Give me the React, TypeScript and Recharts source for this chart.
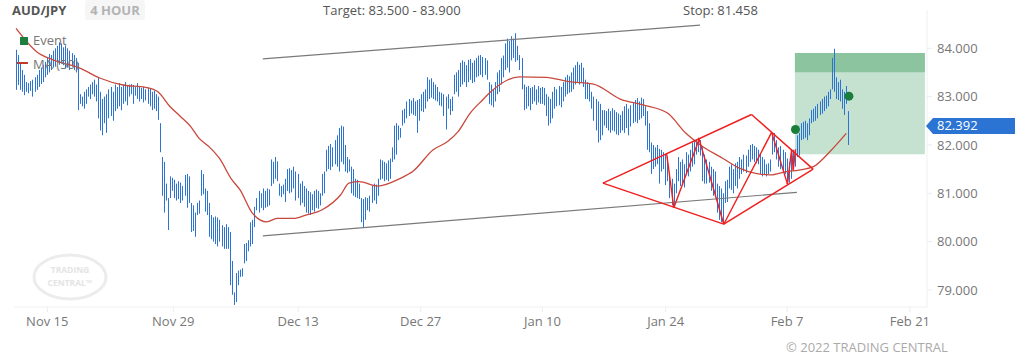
import React from 'react';
import { ComposedChart, Bar, Line, XAxis, YAxis, ReferenceLine, ReferenceArea, ReferenceDot } from 'recharts';

// 4-hour bars as [high, low], bar index starts at 1
const barsNov11 = [
  [83.97,83.14],[83.86,83.24],[83.70,83.14],[83.55,83.10],[83.45,83.03],[83.30,83.10],[83.28,83.07],[83.32,83.12],[83.35,83.00],[83.40,83.10],
  [83.45,83.14],[83.55,83.20],[83.60,83.26],[83.66,83.30],[83.72,83.40],[83.80,83.45],[83.88,83.50],[83.86,83.55],[83.95,83.60],[84.00,83.62],
  [84.05,83.70],[84.12,83.66],[84.10,83.72],[84.02,83.65],[84.06,83.58],[84.00,83.60],[83.95,83.55],[83.90,83.62],[83.86,83.55],[83.80,83.50],
  [83.70,82.72],[83.05,82.85],[83.00,82.80],[83.10,82.75],[83.15,82.85],[83.20,83.00],[83.25,82.95],[83.30,83.05],[83.35,83.00],[83.25,82.90],
  [83.40,82.55],[83.10,82.30],[82.95,82.20],[83.00,82.45],[83.05,82.25],[83.15,82.55],[83.20,82.60],[83.10,82.50],[83.25,82.70],[83.20,82.75],
  [83.28,82.80],[83.20,82.72],[83.25,82.85],[83.30,82.90],[83.22,82.82],[83.25,83.00],[83.26,83.05],[83.24,82.85],[83.20,83.02],[83.28,82.95],
];
const barsNov25 = [
  [83.22,82.90],[83.18,82.95],[83.20,82.88],[83.15,82.92],[83.18,82.85],[83.16,82.80],[83.10,82.72],[83.12,82.75],[83.05,82.70],[83.00,82.52],
  [82.45,81.85],[81.75,80.95],[81.65,80.60],[81.20,80.85],[80.90,80.24],[81.35,80.90],[81.32,81.05],[81.28,80.90],[81.20,80.85],[81.25,80.88],
  [81.22,80.80],[81.15,80.85],[81.38,80.95],[81.40,80.70],[81.35,80.80],[80.80,80.20],[80.75,80.22],[80.60,80.10],[80.80,80.55],[80.85,80.58],
  [81.48,80.95],[81.40,80.98],[81.10,80.62],[81.05,80.55],[80.80,80.10],[80.55,80.05],[80.50,80.00],[80.52,79.95],[80.50,79.90],[80.45,80.00],
  [80.34,79.90],[80.30,79.85],[80.36,79.85],[80.30,79.85],[80.20,79.10],[79.60,78.90],[78.95,78.69],[79.35,78.75],[79.40,79.10],[79.42,79.27],
  [79.45,79.28],[79.95,79.55],[79.97,79.60],[80.03,79.80],[80.40,79.90],[80.45,79.95],[80.72,80.30],[80.90,80.65],[81.05,80.60],[81.00,80.70],
];
const barsDec09 = [
  [81.10,80.65],[81.05,80.70],[81.10,80.72],[81.08,80.75],[81.70,81.15],[81.65,81.20],[81.75,81.30],[81.66,81.25],[81.20,80.95],[81.15,80.92],
  [81.18,80.98],[81.30,80.82],[81.50,81.05],[81.52,81.00],[81.48,81.02],[81.55,81.10],[81.45,80.85],[81.40,80.90],[81.20,80.75],[81.25,80.80],
  [81.15,80.72],[81.10,80.60],[81.05,80.58],[81.02,80.55],[80.98,80.65],[81.05,80.62],[81.08,80.70],[81.05,80.68],[81.00,80.75],[81.40,80.95],
  [81.45,81.00],[81.90,81.45],[81.98,81.50],[82.02,81.48],[81.95,81.55],[82.10,81.60],[82.20,81.55],[82.35,81.45],[82.40,81.65],[82.38,81.60],
  [82.00,81.45],[81.75,81.42],[81.70,81.45],[81.55,81.00],[81.50,80.95],[81.30,80.92],[81.28,80.90],[81.20,80.88],[80.90,80.40],[80.88,80.28],
  [80.92,80.45],[80.90,80.65],[80.95,80.62],[81.15,80.80],[81.20,80.85],[81.18,80.78],[81.30,80.95],[81.70,81.28],[81.68,81.30],[81.65,81.25],
];
const barsDec23 = [
  [81.62,81.28],[81.68,81.25],[81.72,81.30],[81.95,81.65],[82.40,81.70],[82.45,81.80],[82.40,82.10],[82.35,82.15],[82.72,82.40],[82.75,82.45],
  [82.90,82.55],[82.95,82.60],[82.92,82.65],[82.97,82.62],[82.90,82.60],[82.93,82.25],[82.95,82.50],[83.05,82.70],[83.10,82.68],[83.15,82.75],
  [83.40,82.90],[83.35,82.95],[83.38,82.98],[83.30,82.95],[83.25,82.92],[83.20,82.90],[83.10,82.82],[83.08,82.80],[83.05,82.60],[83.00,82.32],
  [83.05,82.75],[82.95,82.62],[83.00,82.70],[83.45,83.05],[83.50,83.10],[83.55,83.00],[83.70,83.20],[83.75,83.25],[83.72,83.30],[83.65,83.20],
  [83.76,83.30],[83.78,83.35],[83.70,83.28],[83.75,83.30],[83.80,83.40],[83.85,83.42],[83.86,83.45],[83.82,83.40],[83.80,83.45],[83.75,83.35],
  [83.30,82.85],[83.25,82.82],[83.15,82.78],[83.30,82.90],[83.50,83.05],[83.55,83.10],[83.80,83.25],[83.85,83.40],[84.10,83.55],[84.20,83.60],
];
const barsJan06 = [
  [84.15,83.50],[84.25,83.75],[84.20,83.80],[84.31,83.72],[84.05,83.75],[83.86,83.55],[83.80,83.15],[83.25,82.72],[83.20,82.75],[83.22,82.80],
  [83.18,82.72],[83.20,82.85],[83.24,82.90],[83.15,82.83],[83.22,82.88],[83.18,82.85],[83.20,82.85],[83.18,82.82],[83.05,82.60],[83.00,82.40],
  [82.95,82.45],[83.10,82.55],[83.20,82.75],[83.15,82.80],[83.22,82.82],[83.20,82.78],[83.30,82.90],[83.40,83.00],[83.45,83.05],[83.42,83.08],
  [83.50,83.10],[83.60,83.15],[83.65,83.25],[83.72,83.30],[83.66,83.25],[83.70,83.30],[83.60,83.20],[83.35,82.95],[83.30,82.95],[83.28,82.90],
  [83.10,82.75],[83.00,82.50],[82.95,82.30],[82.90,82.05],[82.85,82.10],[82.72,82.20],[82.72,82.40],[82.70,82.35],[82.75,82.30],[82.70,82.25],
  [82.76,82.30],[82.72,82.28],[82.68,82.22],[82.65,82.20],[82.62,82.25],[82.70,82.30],[82.80,82.25],[82.85,82.35],[82.75,82.20],[82.82,82.38],
];
const barsJan20 = [
  [82.88,82.45],[82.93,82.48],[82.97,82.45],[82.90,82.52],[82.98,82.55],[82.95,82.60],[82.80,82.40],[82.70,81.90],[82.45,81.85],[82.05,81.40],
  [82.00,81.50],[81.95,81.55],[82.00,81.60],[81.92,81.20],[81.90,81.45],[81.85,81.50],[81.80,81.17],[81.75,81.25],[81.40,80.90],[81.30,80.75],
  [81.20,80.72],[81.50,81.00],[81.75,81.25],[81.65,81.15],[81.70,81.20],[81.60,81.12],[81.85,81.38],[81.80,81.35],[81.90,81.45],[82.05,81.55],
  [82.10,81.60],[82.12,81.80],[82.15,81.85],[82.10,81.78],[81.95,81.25],[81.80,81.20],[81.70,81.20],[81.65,81.22],[81.55,81.05],[81.50,80.95],
  [81.45,80.92],[81.20,80.60],[81.15,80.45],[81.10,80.40],[81.00,80.38],[81.25,80.80],[81.28,80.82],[81.55,81.10],[81.60,81.07],[81.50,81.00],
  [81.62,81.15],[81.65,81.10],[81.75,81.30],[81.70,81.40],[81.80,81.45],[81.78,81.42],[81.90,81.55],[82.00,81.65],[82.02,81.70],[81.98,81.65],
];
const barsFeb03 = [
  [81.95,81.62],[81.90,81.60],[81.82,81.40],[81.75,81.35],[81.70,81.38],[81.60,81.35],[81.62,81.40],[81.70,81.45],[82.20,81.80],[82.25,81.85],
  [82.10,81.70],[81.95,81.55],[81.98,81.50],[81.90,81.48],[81.85,81.40],[81.72,81.25],[81.65,81.22],[81.80,81.30],[81.90,81.50],[81.85,81.55],
  [82.20,81.75],[82.25,81.78],[82.45,82.10],[82.48,82.12],[82.50,82.15],[82.45,82.10],[82.55,82.20],[82.72,82.45],[82.75,82.48],[82.80,82.50],
  [82.85,82.55],[82.90,82.62],[82.95,82.65],[83.00,82.70],[83.02,82.75],[83.10,82.80],[83.15,82.95],[83.80,83.15],[83.99,83.10],[83.40,82.95],
  [83.30,82.93],[83.35,82.90],[83.15,82.75],[83.10,82.62],[83.22,82.85],[82.70,82.00],
];

// MA(50): [bar index, price]
const maPoints = [
  [1,84.41],[11,83.93],[19,83.76],[32,83.59],[42,83.38],[53,83.24],[64,83.19],[70,83.10],[76,82.79],[81,82.59],
  [86,82.38],[90,82.14],[95,81.96],[100,81.72],[106,81.28],[110,81.07],[116,80.59],[123,80.41],[128,80.48],[136,80.48],
  [142,80.55],[150,80.66],[159,80.97],[163,81.21],[168,81.24],[177,81.15],[188,81.31],[194,81.45],[204,81.90],[211,82.07],
  [216,82.27],[222,82.66],[228,82.93],[232,83.10],[246,83.41],[259,83.40],[270,83.31],[282,83.26],[295,82.95],[306,82.83],
  [318,82.66],[327,82.24],[334,82.00],[345,81.72],[353,81.52],[361,81.41],[368,81.38],[376,81.45],[382,81.48],[389,81.55],
  [397,81.86],[405,82.24],
];

const xTickIdx = [16.2, 77.5, 138.3, 197.9, 257.2, 317.1, 376.2, 436.0];
const xTickLabels = ['Nov 15', 'Nov 29', 'Dec 13', 'Dec 27', 'Jan 10', 'Jan 24', 'Feb 7', 'Feb 21'];
const yTicks = [79, 80, 81, 82, 83, 84];

const channelUpper = [[121.1, 83.78], [333.8, 84.48]];
const channelLower = [[121.1, 80.12], [381.0, 81.02]];
const diamond = [[286.6, 81.21], [358.9, 82.63], [388.9, 81.50], [345.4, 80.36], [286.6, 81.21]];
const zigzag = [[317.6, 81.82], [321.1, 80.70], [333.4, 82.12], [345.4, 80.36], [368.7, 82.26], [376.4, 81.19], [378.4, 81.90], [379.2, 81.48], [380.3, 81.91]];
const targetZone = [83.5, 83.9];
const tradeZone = [81.81, 83.5];
const zoneX = [380, 443.3];
const events = [[380.3, 82.32], [406.3, 83.01]];
const lastPrice = 82.392;

const allBars = [...barsNov11, ...barsNov25, ...barsDec09, ...barsDec23, ...barsJan06, ...barsJan20, ...barsFeb03];
const maMap = new Map(maPoints.map(([i, p]) => [i, p]));
const data = allBars.map(([hi, lo], k) => ({ i: k + 1, range: [lo, hi], ma: maMap.has(k + 1) ? maMap.get(k + 1) : null }));

const BLUE = '#2b74d3';

const BarShape = (props: any) => {
  const { x, y, width, height } = props;
  if (x == null || y == null) return null;
  const cx = Math.floor(x + width / 2);
  const top = Math.min(y, y + height);
  const h = Math.max(1, Math.abs(height));
  return <rect x={cx} y={top} width={1} height={h} fill={BLUE} />;
};

const PriceTag = (props: any) => {
  const { cx, cy } = props;
  if (cx == null || cy == null) return null;
  return (
    <g>
      <path d={`M${cx - 1} ${cy} L${cx + 6} ${cy - 8} L${cx + 6} ${cy + 8} Z`} fill={BLUE} />
      <rect x={cx + 6} y={cy - 8} width={1015 - cx - 6} height={16} fill={BLUE} />
      <text x={cx + 10} y={cy + 4.5} fill="#fff" fontSize={13}>{lastPrice.toFixed(3)}</text>
    </g>
  );
};

function segments(points: number[][], key: string, stroke: string, width: number) {
  return points.slice(1).map((p, k) => (
    <ReferenceLine
      key={key + k}
      segment={[{ x: points[k][0], y: points[k][1] }, { x: p[0], y: p[1] }]}
      stroke={stroke}
      strokeWidth={width}
      ifOverflow="visible"
    />
  ));
}

export default function App() {
  const txt: React.CSSProperties = { position: 'absolute', fontSize: 13, lineHeight: '18px', whiteSpace: 'nowrap' };
  return (
    <div style={{ position: 'absolute', left: 0, top: 0, width: 1015, height: 361, fontFamily: "'Open Sans', sans-serif", background: '#fff', overflow: 'hidden' }}>
      <ComposedChart width={1015} height={361} data={data} margin={{ top: 10, right: 0, bottom: 24, left: 14 }}>
        <XAxis
          type="number"
          dataKey="i"
          domain={[0, 444.3]}
          allowDataOverflow
          ticks={xTickIdx}
          tickFormatter={(v: number) => xTickLabels[xTickIdx.indexOf(v)] ?? ''}
          interval={0}
          height={30}
          axisLine={{ stroke: '#f0f0f0' }}
          tickLine={{ stroke: '#ececec' }}
          tickSize={5}
          tickMargin={5}
          tick={{ fill: '#777', fontSize: 13 }}
        />
        <YAxis
          orientation="right"
          type="number"
          domain={[78.647, 84.792]}
          allowDataOverflow
          ticks={yTicks}
          tickFormatter={(v: number) => v.toFixed(3)}
          width={88}
          axisLine={{ stroke: '#f0f0f0' }}
          tickLine={{ stroke: '#ececec' }}
          tickSize={5}
          tickMargin={5}
          tick={{ fill: '#777', fontSize: 13 }}
        />
        <ReferenceArea x1={zoneX[0]} x2={zoneX[1]} y1={tradeZone[0]} y2={tradeZone[1]} fill="#c4e2cf" fillOpacity={1} stroke="none" />
        <ReferenceArea x1={zoneX[0]} x2={zoneX[1]} y1={targetZone[0]} y2={targetZone[1]} fill="#8cc4a0" fillOpacity={1} stroke="none" />
        {segments(channelUpper, 'cu', '#7a7a7a', 1.2)}
        {segments(channelLower, 'cl', '#7a7a7a', 1.2)}
        <Bar dataKey="range" barSize={1} shape={<BarShape />} isAnimationActive={false} />
        <Line dataKey="ma" type="monotone" connectNulls stroke="#c8483c" strokeWidth={1.3} dot={false} activeDot={false} isAnimationActive={false} />
        {segments(diamond, 'dm', '#f01e1e', 1.4)}
        {segments(zigzag, 'zz', '#f01e1e', 1.4)}
        {events.map(([i, p], k) => (
          <ReferenceDot key={'ev' + k} x={i} y={p} r={4.5} fill="#1b7d3a" stroke="none" />
        ))}
        <ReferenceDot x={444.3} y={lastPrice} r={0} shape={<PriceTag />} ifOverflow="visible" />
      </ComposedChart>

      <div style={{ ...txt, left: 12, top: 1, fontWeight: 700, color: '#555' }}>AUD/JPY</div>
      <div style={{ position: 'absolute', left: 85, top: 0, width: 60, height: 20, background: '#f6f6f6', borderRadius: 3 }} />
      <div style={{ ...txt, left: 85, top: 1, width: 60, textAlign: 'center', fontWeight: 700, color: '#b3b3b3' }}>4 HOUR</div>
      <div style={{ ...txt, left: 323, top: 1, color: '#555' }}>Target: 83.500 - 83.900</div>
      <div style={{ ...txt, left: 683, top: 1, color: '#555' }}>Stop: 81.458</div>

      <div style={{ position: 'absolute', left: 20, top: 37, width: 8, height: 8, background: '#1e7e3e' }} />
      <div style={{ ...txt, left: 33, top: 31, color: '#777' }}>Event</div>
      <div style={{ position: 'absolute', left: 17, top: 62, width: 11, height: 2, background: '#c0392b' }} />
      <div style={{ ...txt, left: 33, top: 55, color: '#777' }}>MA (50)</div>

      <svg style={{ position: 'absolute', left: 30, top: 252 }} width={80} height={52}>
        <ellipse cx={40} cy={25} rx={36} ry={22} fill="none" stroke="#ececec" strokeWidth={3} />
        <text x={40} y={21} textAnchor="middle" fontSize={8.5} fontWeight={700} fill="#e4e4e4" fontFamily="'Open Sans', sans-serif">TRADING</text>
        <text x={40} y={33.5} textAnchor="middle" fontSize={8.5} fontWeight={700} fill="#e4e4e4" fontFamily="'Open Sans', sans-serif">CENTRAL™</text>
      </svg>

      <div style={{ ...txt, left: 786, top: 338, color: '#aaa' }}>© 2022 TRADING CENTRAL</div>
    </div>
  );
}
